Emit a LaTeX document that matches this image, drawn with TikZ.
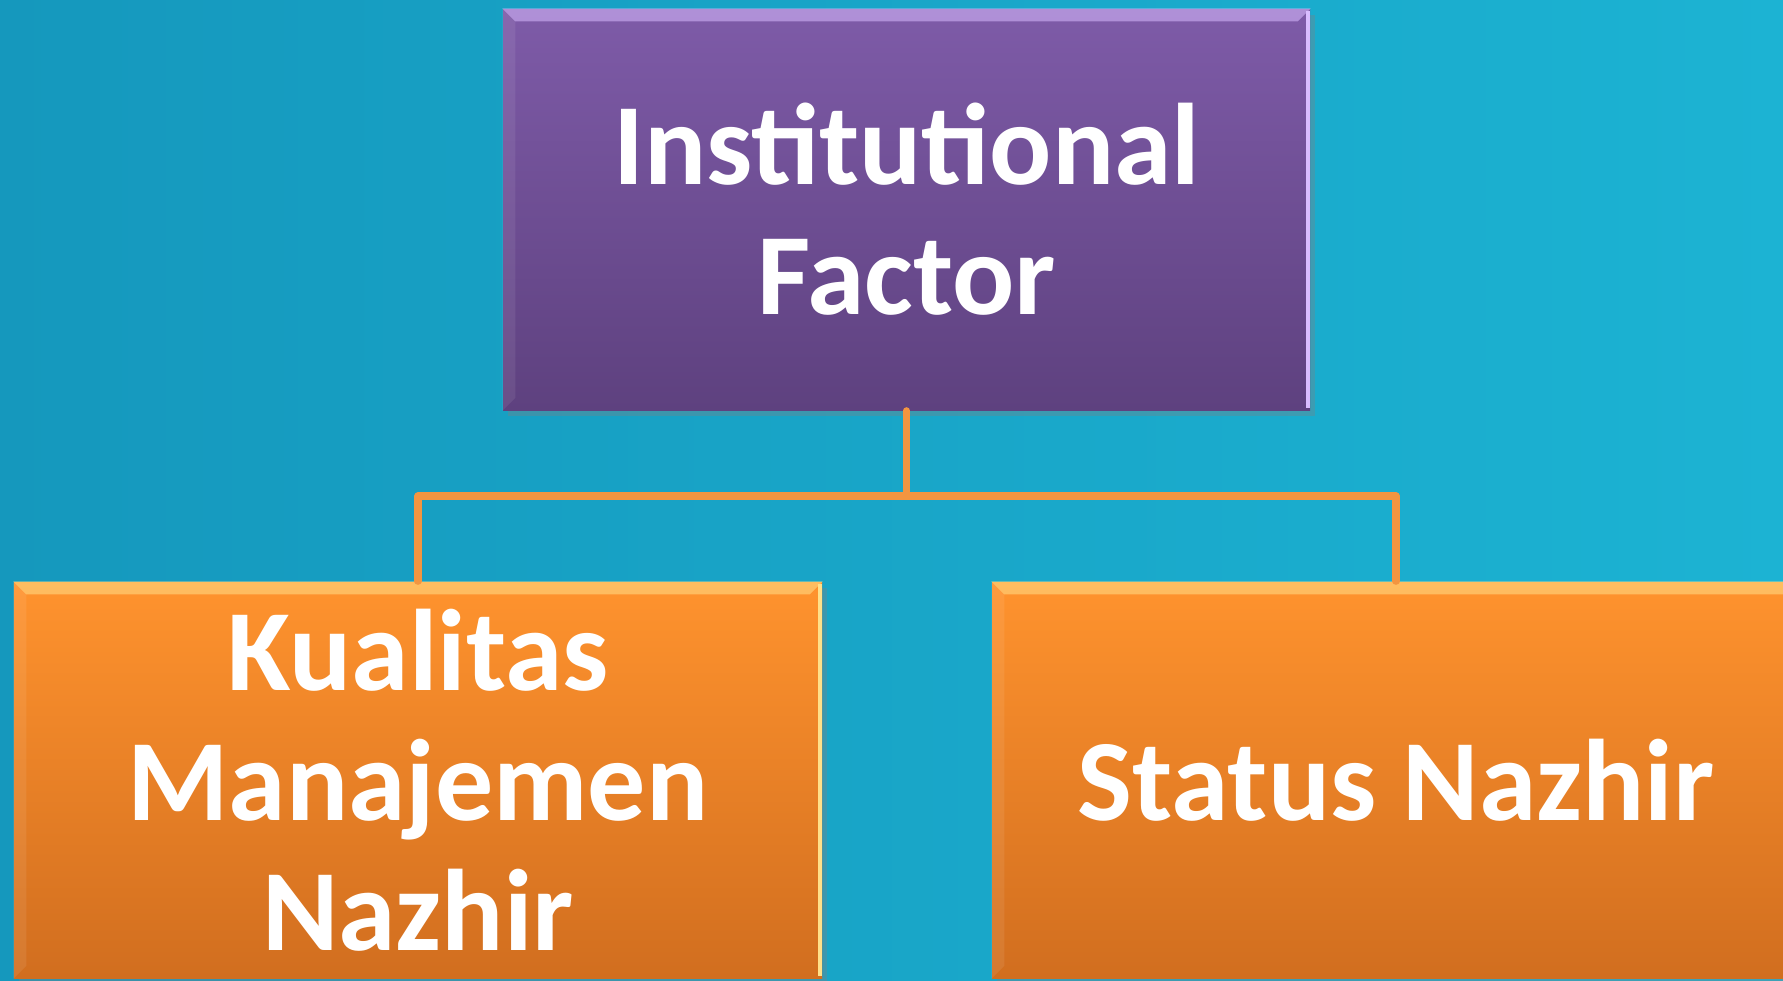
\documentclass[tikz,border=0pt]{standalone}
\usepackage{fontspec}
\setmainfont{Carlito}
\usetikzlibrary{calc}
\usetikzlibrary{shadows}
\definecolor{seaL}{HTML}{1598BD}
\definecolor{seaR}{HTML}{1CB3D3}
\definecolor{plumT}{HTML}{7E5BA8}
\definecolor{plumB}{HTML}{5E417F}
\definecolor{plumHi}{HTML}{D9BCFF}
\definecolor{amberT}{HTML}{FF932E}
\definecolor{amberB}{HTML}{D16E1F}
\definecolor{amberHi}{HTML}{FFE08A}
\definecolor{wire}{HTML}{F39540}
\tikzset{
	tile/.style={minimum width=8.08cm,minimum height=3.96cm,inner sep=0pt,align=center,
		text=white,font=\bfseries\fontsize{33}{37}\selectfont,
		drop shadow={shadow xshift=0.5mm,shadow yshift=-0.6mm,opacity=0.35}},
	head/.style={tile,minimum width=8.07cm,minimum height=4.01cm,top color=plumT,bottom color=plumB},
	leaf/.style={tile,top color=amberT,bottom color=amberB},
	link/.style={wire,line width=2pt,line cap=round,line join=round}
}
\def\bevel#1#2{% Syntax: {node}{highlight colour}
	\fill[#2,opacity=0.55] (#1.north west)--(#1.north east)--($(#1.north east)+(-0.13,-0.13)$)--($(#1.north west)+(0.13,-0.13)$)--cycle;
	\fill[white,opacity=0.08] (#1.north west)--($(#1.north west)+(0.13,-0.13)$)--($(#1.south west)+(0.13,0.13)$)--(#1.south west)--cycle;
	\draw[#2,line width=1.2pt] ($(#1.north east)+(-0.03,-0.03)$)--($(#1.south east)+(-0.03,0.03)$);
}

\begin{document}
\begin{tikzpicture}
	%BACKGROUND
	\clip (0,0) rectangle (17.83,9.80);
	\fill[left color=seaL,right color=seaR] (0,0) rectangle (17.83,9.80);
	
	%BOXES
	\node[head] (inst) at (9.065,7.705) {Institutional\\Factor};
	\node[leaf] (mutu) at (4.18,2.00) {Kualitas\\Manajemen\\Nazhir};
	\node[leaf] (stat) at (13.96,2.00) {Status Nazhir};
	\bevel{inst}{plumHi}
	\bevel{mutu}{amberHi}
	\bevel{stat}{amberHi}
	
	%CONNECTORS
	\coordinate (bus) at (0,4.84);
	\draw[link] (inst.south) -- (inst.south |- bus) -| (mutu.north);
	\draw[link] (inst.south |- bus) -| (stat.north);
\end{tikzpicture}
\end{document}
